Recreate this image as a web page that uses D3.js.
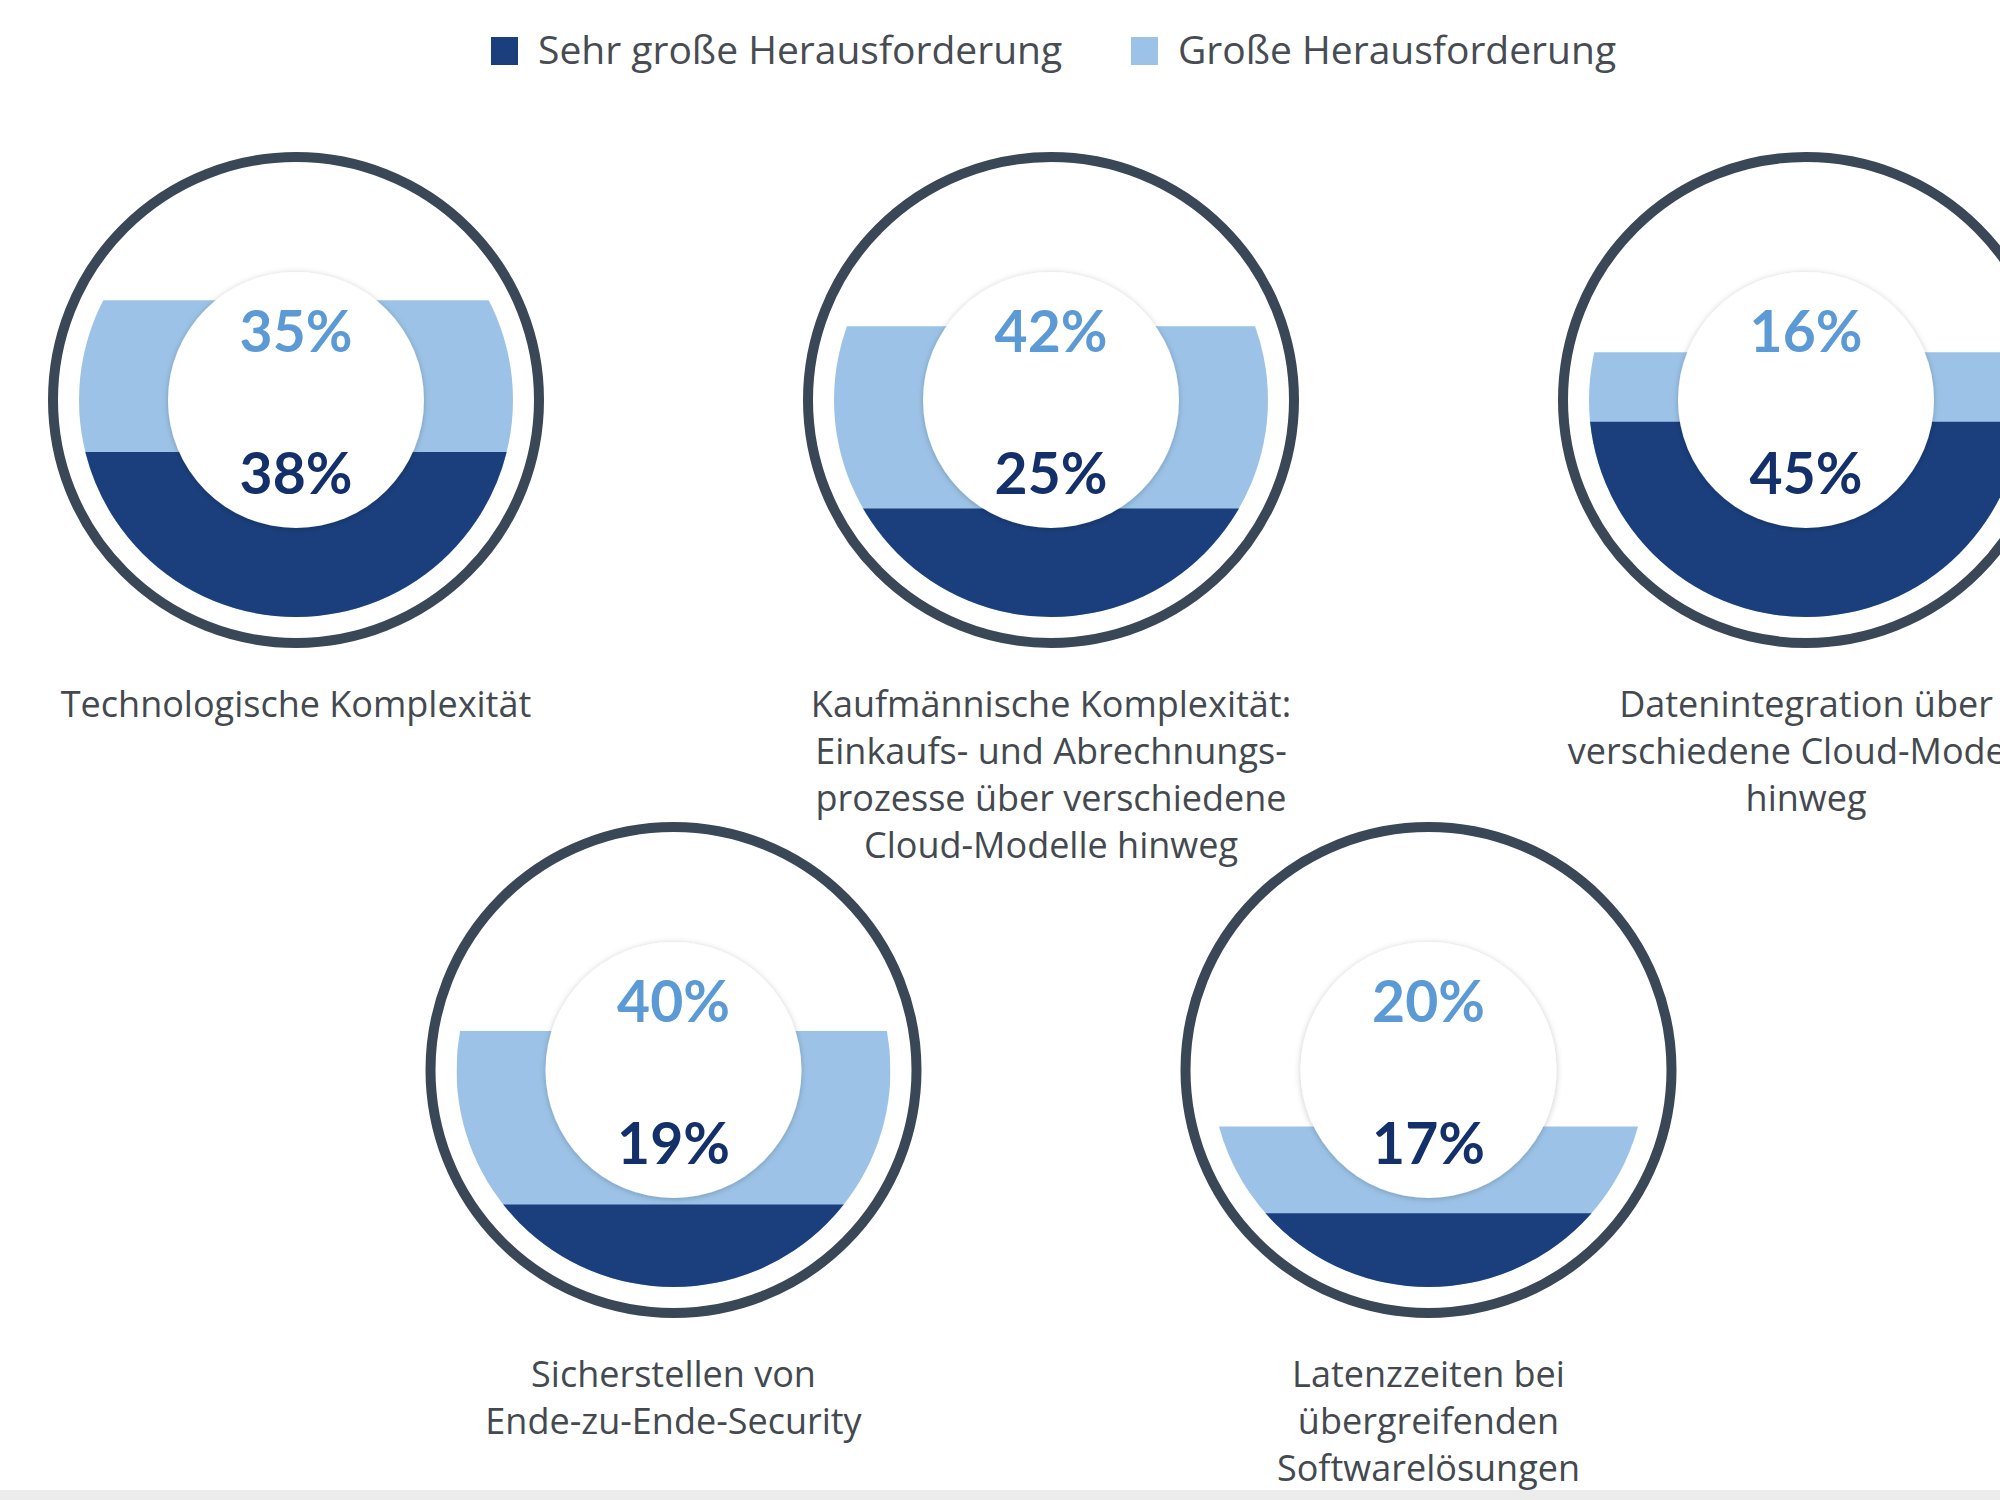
<!DOCTYPE html>
<html>
<head>
<meta charset="utf-8">
<script src="https://cdn.jsdelivr.net/npm/d3@7"></script>
<style>
  body { margin: 0; background: #fff; }
  svg { display: block; }
</style>
</head>
<body>
<div class="chart"></div>
<script>
var width = 2000, height = 1500;

// data
var categories = [
  ["Technologische Komplexität"],
  ["Kaufmännische Komplexität:", "Einkaufs- und Abrechnungs-", "prozesse über verschiedene", "Cloud-Modelle hinweg"],
  ["Datenintegration über", "verschiedene Cloud-Modelle", "hinweg"],
  ["Sicherstellen von", "Ende-zu-Ende-Security"],
  ["Latenzzeiten bei", "übergreifenden", "Softwarelösungen"]
];
var sehrGross = [38, 25, 45, 19, 17];
var gross = [35, 42, 16, 40, 20];
var seriesNames = ["Sehr große Herausforderung", "Große Herausforderung"];

var darkBlue = "#1b3f7d", lightBlue = "#9cc3e7";
var darkText = "#13306a", lightText = "#5b9ad5";
var ringColor = "#3a4756", labelColor = "#43494f";
var textFont = "'Open Sans', Lato, sans-serif";

var ringR = 243, fillR = 217, innerR = 128;

var svg = d3.select(".chart").append("svg")
    .attr("width", width)
    .attr("height", height);

var defs = svg.append("defs");
var shadow = defs.append("filter").attr("id", "shadow")
    .attr("x", "-20%").attr("y", "-20%").attr("width", "140%").attr("height", "140%");
shadow.append("feDropShadow")
    .attr("dx", 0).attr("dy", 1)
    .attr("stdDeviation", 3)
    .attr("flood-color", "#000")
    .attr("flood-opacity", 0.22);

// bottom grey strip
svg.append("rect")
    .attr("x", 0).attr("y", 1490)
    .attr("width", width).attr("height", 10)
    .attr("fill", "#ececec");

// layout: 3 on top row, 2 staggered on bottom row
var colX = d3.scaleLinear().domain([0, 1]).range([296, 1051]);
var rowY = [400, 1070];
function place(i) {
  if (i < 3) return { x: colX(i), y: rowY[0] };
  return { x: colX(i - 3 + 0.5), y: rowY[1] };
}

var nodes = categories.map(function(lines, i) {
  var p = place(i);
  return { i: i, lines: lines, dark: sehrGross[i], light: gross[i], x: p.x, y: p.y };
});

var g = svg.selectAll(".gauge")
    .data(nodes)
    .enter().append("g")
    .attr("class", "gauge")
    .attr("transform", function(d) { return "translate(" + d.x + "," + d.y + ")"; });

// fill level scale: percent -> height inside the circle
var level = d3.scaleLinear().domain([0, 100]).range([fillR, -fillR]);

g.each(function(d) {
  var sel = d3.select(this);

  var clipLight = defs.append("clipPath").attr("id", "clipL" + d.i);
  clipLight.append("rect")
      .attr("x", -fillR).attr("y", level(d.dark + d.light))
      .attr("width", 2 * fillR).attr("height", fillR - level(d.dark + d.light));
  var clipDark = defs.append("clipPath").attr("id", "clipD" + d.i);
  clipDark.append("rect")
      .attr("x", -fillR).attr("y", level(d.dark))
      .attr("width", 2 * fillR).attr("height", fillR - level(d.dark));

  sel.append("circle")
      .attr("r", fillR)
      .attr("fill", lightBlue)
      .attr("clip-path", "url(#clipL" + d.i + ")");
  sel.append("circle")
      .attr("r", fillR)
      .attr("fill", darkBlue)
      .attr("clip-path", "url(#clipD" + d.i + ")");

  sel.append("circle")
      .attr("r", innerR)
      .attr("fill", "#fff")
      .attr("filter", "url(#shadow)");

  sel.append("circle")
      .attr("r", ringR)
      .attr("fill", "none")
      .attr("stroke", ringColor)
      .attr("stroke-width", 10);

  sel.append("text")
      .attr("y", -48)
      .attr("text-anchor", "middle")
      .attr("font-family", "Lato, 'Open Sans', sans-serif")
      .attr("font-weight", 700)
      .attr("font-size", 57)
      .attr("fill", lightText)
      .text(d.light + "%");

  sel.append("text")
      .attr("y", 94)
      .attr("text-anchor", "middle")
      .attr("font-family", "Lato, 'Open Sans', sans-serif")
      .attr("font-weight", 700)
      .attr("font-size", 57)
      .attr("fill", darkText)
      .text(d.dark + "%");

  var label = sel.append("text")
      .attr("text-anchor", "middle")
      .attr("font-family", textFont)
      .attr("font-size", 36)
      .attr("fill", labelColor);
  label.selectAll("tspan")
      .data(d.lines)
      .enter().append("tspan")
      .attr("x", 0)
      .attr("y", function(l, j) { return 317 + j * 47; })
      .text(function(l) { return l; });
});

// legend
var legend = svg.append("g").attr("class", "legend");
var legendX = [491, 1131];
var legendColors = [darkBlue, lightBlue];
var item = legend.selectAll("g")
    .data(seriesNames)
    .enter().append("g")
    .attr("transform", function(d, i) { return "translate(" + legendX[i] + ",51)"; });
item.append("rect")
    .attr("x", 0).attr("y", -14)
    .attr("width", 27).attr("height", 28)
    .attr("fill", function(d, i) { return legendColors[i]; });
item.append("text")
    .attr("x", 47).attr("y", 13)
    .attr("font-family", textFont)
    .attr("font-size", 39)
    .attr("fill", "#474c53")
    .text(function(d) { return d; });
</script>
</body>
</html>
